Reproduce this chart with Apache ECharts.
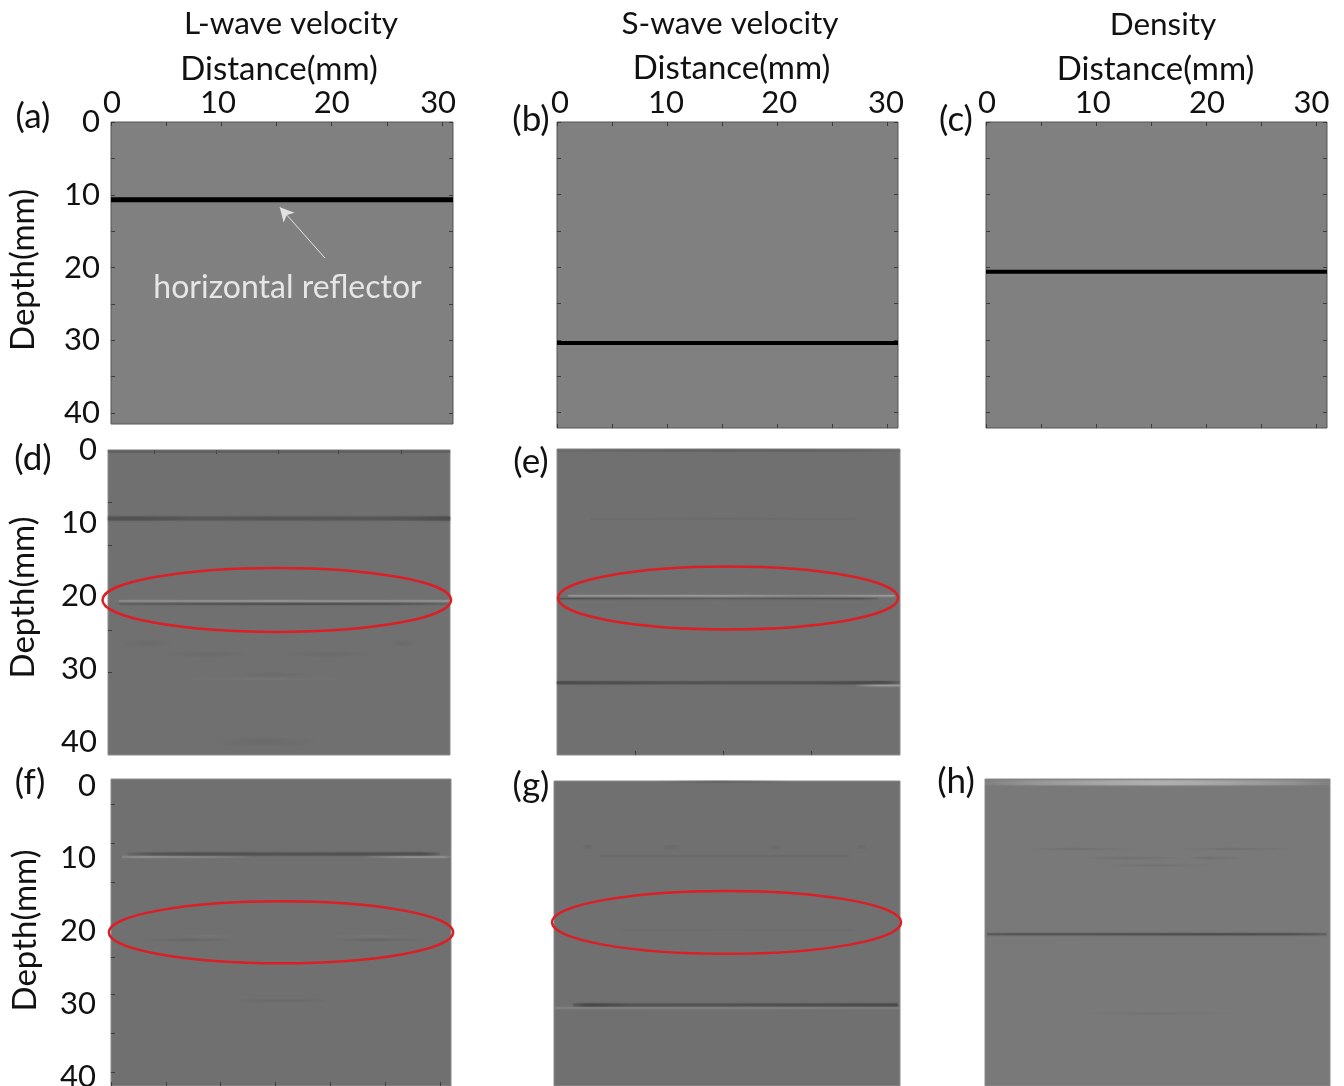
<!DOCTYPE html>
<html>
<head>
<meta charset="utf-8">
<script src="https://cdn.jsdelivr.net/npm/echarts@6/dist/echarts.min.js"></script>
<style>html,body{margin:0;padding:0;background:#fff}#c{width:1344px;height:1086px}</style>
</head>
<body>
<div id="c"></div>
<script>
// ---------- data ----------
const columnTitles = ['L-wave velocity', 'S-wave velocity', 'Density'];
const depthTicks = [0, 10, 20, 30, 40];
// The depth labels of panel (f) sit slightly below their ticks in the picture
const depthLabelsF = [0.4, 10.4, 20.4, 30.5, 40.5];
const fiveStepX = [0, 5, 10, 15, 20, 25, 30];
const fiveStepY = [0, 5, 10, 15, 20, 25, 30, 35, 40];
// The distance labels 0/10/20/30 sit slightly off their ticks in the picture
const distanceLabelsA = [0.09, 9.7, 20, 29.65];
const distanceLabelsB = [0.27, 9.9, 20.2, 29.9];
const distanceLabelsC = [0.1, 9.7, 20.1, 29.6];

// Each trace: [depth mm, distance stops mm, strength stops 0..1]
const tracesA = [[10.7, [0, 31], [1, 1]]];
const tracesB = [[30.4, [0, 31], [1, 1]]];
const tracesC = [[20.6, [0, 31], [1, 1]]];
const tracesD = [
  [0.2, [0, 31], [.6, .6]],
  [9.4, [0, 3, 8, 15, 24, 28, 30, 31], [.75, .8, .5, .6, .55, .7, 1, .9]],
  [20.7, [1, 5, 15, 27, 31], [.5, .6, .8, .6, .7]],
  [21.1, [1, 8, 15, 25, 31], [.3, .6, .8, .7, .2]],
  [26.5, [1.4, 3.6, 5.9], [0, .3, 0]],
  [26.5, [25.6, 26.6, 27.7], [0, .3, 0]],
  [28, [5, 9, 12.9], [0, .35, 0]],
  [28, [16.2, 20, 24], [0, .35, 0]],
  [30.8, [12, 15, 18.6], [0, .3, 0]],
  [31.4, [6.5, 14, 22], [0, .5, 0]],
  [40, [9.5, 14, 19.2], [0, .35, 0]]
];
const tracesE = [
  [0.2, [0, 8, 15, 26, 31], [.15, .4, .5, .4, .15]],
  [9.6, [3, 15, 27], [.3, .5, .3]],
  [20.1, [1, 8, 15, 22, 30.5], [.6, .7, .8, .4, .8]],
  [20.5, [0, 5, 15, 27, 29], [.7, .6, .35, .7, .2]],
  [32, [0, 10, 20, 26, 29, 30, 31], [.8, .6, .55, .7, 1, .6, .1]],
  [32.4, [27, 29, 31], [0, .7, .7]]
];
const tracesF = [
  [9.8, [1.5, 4, 8, 15, 24, 28, 30], [.05, .6, .9, .7, .8, 1, .05]],
  [10.2, [1, 3, 9, 13], [.3, .6, .3, 0]],
  [10.2, [23, 27, 30, 31], [0, .6, .6, 0]],
  [21.65, [2.9, 7, 10.8], [0, .5, 0]],
  [21.65, [20.6, 24, 28.8], [0, .5, 0]],
  [21.1, [6, 9, 11], [0, .5, 0]],
  [21.1, [20, 24, 28], [0, .5, 0]],
  [30, [11.5, 14, 17, 19.7], [0, .5, .5, 0]]
];
const tracesG = [
  [0.1, [9.2, 15, 21.1], [0, .5, 0]],
  [9.1, [2.6, 3, 3.5], [0, .5, 0]],
  [9.1, [9.8, 10.5, 11.3], [0, .5, 0]],
  [9.1, [19.4, 19.8, 20.3], [0, .5, 0]],
  [9.1, [27.1, 27.5, 28], [0, .5, 0]],
  [10.35, [4.1, 15, 26.5], [.4, .4, .4]],
  [20.55, [5.9, 15, 26.8], [.3, .35, .3]],
  [30.9, [1.7, 3.5, 7, 15, 25, 30.8], [.2, 1, .5, .55, .7, .8]],
  [31.3, [0, 15, 31], [.6, .55, .45]]
];
const tracesH = [
  [0.5, [0, 3.8, 15.5, 27, 31], [.05, .25, .75, .25, .05]],
  [9.65, [4, 8, 13.3], [0, .6, 0]],
  [9.65, [17.8, 22, 27.4], [0, .6, 0]],
  [10.9, [8.8, 13, 17.5], [0, .6, 0]],
  [10.9, [18.4, 20, 22.9], [0, .6, 0]],
  [11.9, [11, 15, 20.5], [0, .5, 0]],
  [21.4, [0.2, 3, 10, 20, 27, 30.7], [.5, .7, .75, .9, .8, .4]],
  [32.3, [8.1, 15, 23.2], [0, .5, 0]]
];

// Ellipse marks: [centre distance, centre depth, radius distance, radius depth]
const ringD = [15.3, 20.55, 15.8, 4.38];
const ringE = [15.46, 20.4, 15.37, 4.3];
const ringF = [15.5, 20.6, 15.7, 4.28];
const ringG = [15.46, 19.5, 15.64, 4.34];

// Arrow and note in panel (a)
const arrowFrom = [19.4, 18.7];
const arrowTo = [15.3, 11.7];
const notePoint = [16.0, 22.7];
const noteText = 'horizontal reflector';

// Faint tick positions
const topTicksD = [4.2, 9.8, 15.4, 20.9, 26.6];
const leftTicksD = [7.1, 13, 24.7, 30.5];
const bottomTicksE = [7.05, 15, 23];
const leftTicksF = [3, 8.3, 13.7, 24, 29.2, 34.5, 39.9];

// ---------- styles and layout ----------
const FONT = 'Lato';
const TXT = '#111';
const FS_NUM = 31;
const FS_NAME = 33;
const FS_HEAD = 31.5;
const FS_NOTE = 32;
const FS_LETTER = 35;
const stylesD = [[2,'#585858'],[4,'#505050'],[1.5,'#9c9c9c'],[1.5,'#484848'],[5,'#666666'],[5,'#666666'],[4,'#666666'],[4,'#666666'],[3,'#666666'],[1,'#7c7c7c'],[7,'#676767']];
const stylesE = [[2,'#585858'],[2,'#686868'],[1.5,'#a0a0a0'],[1.2,'#484848'],[3,'#4a4a4a'],[1.5,'#a6a6a6']];
const stylesF = [[3,'#4f4f4f'],[2,'#969696'],[2,'#969696'],[2,'#626262'],[2,'#626262'],[1,'#7e7e7e'],[1,'#7e7e7e'],[2,'#666666']];
const stylesG = [[2,'#5e5e5e'],[4,'#686868'],[4,'#686868'],[4,'#686868'],[4,'#686868'],[1.5,'#646464'],[1.5,'#6a6a6a'],[3,'#484848'],[1.5,'#8a8a8a']];
const stylesH = [[5,'#b4b4b4'],[2,'#6e6e6e'],[2,'#6e6e6e'],[2,'#6e6e6e'],[2,'#6e6e6e'],[2,'#6e6e6e'],[2,'#4c4c4c'],[1.5,'#6e6e6e']];

const panels = [
 {id:'a', l:111, t:122, w:342, h:302, yMin:0, yMax:41.5, bg:'#808080', border:'#555', traces:tracesA, styles:[[5,'#000']],
  xLabels:distanceLabelsA, yLabels:depthTicks, topTicks:fiveStepX, leftTicks:fiveStepY, rightTicks:fiveStepY,
  depthGap:71, depthPad:6, distGap:36, distPad:[0,6,0,0]},
 {id:'b', l:557, t:122, w:341, h:306, yMin:0, yMax:42.1, bg:'#808080', border:'#555', traces:tracesB, styles:[[4,'#000']],
  xLabels:distanceLabelsB, topTicks:fiveStepX, bottomTicks:fiveStepX, leftTicks:fiveStepY, rightTicks:fiveStepY,
  distGap:37, distPad:[0,0,0,8]},
 {id:'c', l:986, t:122, w:341, h:306, yMin:0, yMax:42.1, bg:'#808080', border:'#555', traces:tracesC, styles:[[4,'#000']],
  xLabels:distanceLabelsC, topTicks:fiveStepX, bottomTicks:fiveStepX, leftTicks:fiveStepY, rightTicks:fiveStepY,
  distGap:30, distPad:[0,2,0,0]},
 {id:'d', l:108, t:450, w:342, h:305, yMin:0, yMax:41.8, bg:'#707070', border:'#8a8a8a', traces:tracesD, styles:stylesD, ring:ringD,
  yLabels:depthTicks, topTicks:topTicksD, leftTicks:leftTicksD, depthGap:68, depthPad:10},
 {id:'e', l:557, t:449, w:343, h:306, yMin:0, yMax:41.9, bg:'#707070', border:'#8a8a8a', traces:tracesE, styles:stylesE, ring:ringE,
  bottomTicks:bottomTicksE},
 {id:'f', l:111, t:779, w:340, h:307, yMin:-0.55, yMax:41.8, bg:'#707070', border:'#8a8a8a', traces:tracesF, styles:stylesF, ring:ringF,
  yLabels:depthLabelsF, bottomTicks:fiveStepX, leftTicks:leftTicksF, depthGap:69, depthPad:4, labelMargin:15},
 {id:'g', l:554, t:781, w:346, h:305, yMin:0, yMax:42.07, bg:'#707070', border:'#8a8a8a', traces:tracesG, styles:stylesG, ring:ringG},
 {id:'h', l:985, t:779, w:345, h:307, yMin:0, yMax:42.3, bg:'#797979', border:'#8a8a8a', traces:tracesH, styles:stylesH}
];

const heads = [
 {text:columnTitles[0], x:291, y:24, s:FS_HEAD}, {text:columnTitles[1], x:730, y:24, s:FS_HEAD}, {text:columnTitles[2], x:1163, y:25, s:FS_HEAD},
 {text:'(a)', x:33, y:117, s:FS_LETTER}, {text:'(b)', x:531, y:120, s:FS_LETTER}, {text:'(c)', x:956, y:120, s:FS_LETTER},
 {text:'(d)', x:33, y:459, s:FS_LETTER}, {text:'(e)', x:531, y:462, s:FS_LETTER}, {text:'(f)', x:30, y:783, s:FS_LETTER},
 {text:'(g)', x:531, y:786, s:FS_LETTER}, {text:'(h)', x:956, y:782, s:FS_LETTER}
];

// ---------- option ----------
const grid = [], xAxis = [], yAxis = [], series = [];

function tickAxis(values, len){
  return values ? {show:true, inside:true, length:len, customValues:values, lineStyle:{color:'#3c3c3c', width:1}} : {show:false};
}
const noLine = {show:false, onZero:false};
const nearestTen = function(v){ return String(Math.round(v/10)*10); };

panels.forEach(function(p, i){
  grid.push({left:p.l, top:p.t, width:p.w, height:p.h, show:true, backgroundColor:p.bg, borderColor:p.border, borderWidth:1, outerBoundsMode:'none'});
  const xi = xAxis.length, yi = yAxis.length;
  xAxis.push({
    type:'value', gridIndex:i, min:0, max:31, position:'top',
    axisLine:noLine, splitLine:{show:false},
    axisTick: tickAxis(p.topTicks, 4),
    axisLabel: p.xLabels ? {show:true, customValues:p.xLabels, formatter:nearestTen,
      fontFamily:FONT, fontSize:FS_NUM, color:TXT, margin:4, showMinLabel:true, showMaxLabel:true} : {show:false},
    name: p.distGap ? 'Distance(mm)' : '', nameLocation:'middle', nameGap:p.distGap || 0,
    nameTextStyle:{fontFamily:FONT, fontSize:FS_NAME, color:TXT, padding:p.distPad || 0}
  });
  xAxis.push({
    type:'value', gridIndex:i, min:0, max:31, position:'bottom', axisLine:noLine, splitLine:{show:false},
    axisTick: tickAxis(p.bottomTicks, 4), axisLabel:{show:false}
  });
  yAxis.push({
    type:'value', gridIndex:i, min:p.yMin, max:p.yMax, inverse:true, position:'left',
    axisLine:noLine, splitLine:{show:false},
    axisTick: tickAxis(p.leftTicks, 4),
    axisLabel: p.yLabels ? {show:true, customValues:p.yLabels, formatter:nearestTen, fontFamily:FONT, fontSize:FS_NUM, color:TXT, margin:p.labelMargin || 11} : {show:false},
    name: p.depthGap ? 'Depth(mm)' : '', nameLocation:'middle', nameRotate:90, nameGap:p.depthGap || 0,
    nameTextStyle:{fontFamily:FONT, fontSize:FS_NAME, color:TXT, padding:[0,0,0,p.depthPad || 0]}
  });
  yAxis.push({
    type:'value', gridIndex:i, min:p.yMin, max:p.yMax, inverse:true, position:'right', axisLine:noLine, splitLine:{show:false},
    axisTick: tickAxis(p.rightTicks, 4), axisLabel:{show:false}
  });

  p.traces.forEach(function(tr, k){
    const depth = tr[0], xs = tr[1], st = tr[2], sty = p.styles[k];
    const span = xs[xs.length-1] - xs[0];
    const stops = xs.map(function(x, n){
      return {offset:(x - xs[0]) / span, color:echarts.color.modifyAlpha(sty[1], st[n])};
    });
    series.push({
      type:'line', xAxisIndex:xi, yAxisIndex:yi, silent:true, animation:false, symbol:'none',
      data: xs.map(function(x){ return [x, depth]; }),
      lineStyle:{width:sty[0], cap:'butt', color:new echarts.graphic.LinearGradient(0,0,1,0,stops),
                 shadowBlur: sty[1]==='#000' ? 0 : 2, shadowColor:sty[1]},
      z:2
    });
  });

  if (p.ring) {
    series.push({
      type:'custom', xAxisIndex:xi, yAxisIndex:yi, silent:true, animation:false, clip:false, z:5,
      data:[p.ring],
      renderItem:function(params, api){
        const c = api.coord([api.value(0), api.value(1)]);
        const s = api.size([api.value(2), api.value(3)]);
        return {type:'ellipse', shape:{cx:c[0], cy:c[1], rx:s[0], ry:s[1]},
                style:{fill:'none', stroke:'#dc1e26', lineWidth:2.5}};
      }
    });
  }

  if (p.id === 'a') {
    series.push({
      type:'line', xAxisIndex:xi, yAxisIndex:yi, silent:true, animation:false, symbol:'none', z:6,
      data:[arrowFrom, arrowTo], lineStyle:{opacity:0},
      markLine:{silent:true, animation:false, symbol:['none','arrow'], symbolSize:[11,14], label:{show:false},
        lineStyle:{color:'#e2e2e2', width:1, type:'solid'},
        data:[[{coord:arrowFrom},{coord:arrowTo}]]}
    });
    series.push({
      type:'scatter', xAxisIndex:xi, yAxisIndex:yi, silent:true, animation:false, symbolSize:0, z:6,
      data:[notePoint],
      label:{show:true, position:'inside', formatter:noteText, fontFamily:FONT, fontSize:FS_NOTE, color:'#fff'}
    });
  }
});

const chart = echarts.init(document.getElementById('c'), null, {renderer:'canvas'});
chart.setOption({
  animation:false, backgroundColor:'#fff',
  title: heads.map(function(h){
    return {text:h.text, left:h.x, top:h.y, padding:0, textAlign:'center', textVerticalAlign:'middle',
            textStyle:{fontFamily:FONT, fontSize:h.s, fontWeight:'normal', color:TXT}};
  }),
  grid:grid, xAxis:xAxis, yAxis:yAxis, series:series
});
</script>
</body>
</html>
